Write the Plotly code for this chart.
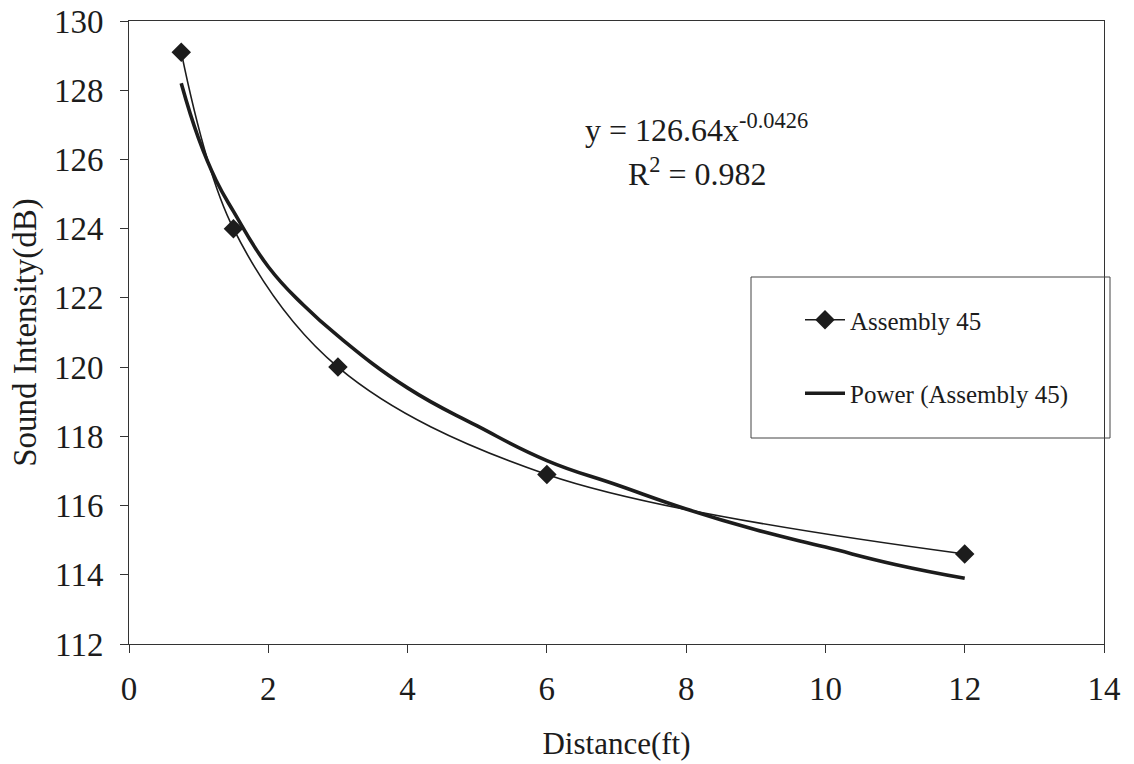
import plotly.graph_objects as go

# Measured data (Assembly 45)
distance_ft = [0.75, 1.5, 3, 6, 12]
sound_db = [129.1, 124.0, 120.0, 116.9, 114.6]

# Power trendline
trend_x = [0.75, 1, 1.25, 1.5, 2, 2.5, 3, 4, 5, 6, 7, 8, 9, 10, 11, 12]
trend_y = [128.2, 126.6, 125.4, 124.5, 122.9, 121.8, 120.9, 119.4, 118.3,
           117.3, 116.6, 115.9, 115.3, 114.8, 114.3, 113.9]

x_ticks = [0, 2, 4, 6, 8, 10, 12, 14]
y_ticks = [112, 114, 116, 118, 120, 122, 124, 126, 128, 130]

FONT = "serif"
INK = "#1c1c1c"

fig = go.Figure()
fig.add_trace(go.Scatter(
    x=distance_ft, y=sound_db, name="Assembly 45", mode="lines+markers",
    line=dict(color=INK, width=1.6, shape="spline", smoothing=1.0),
    marker=dict(symbol="diamond", size=15, color=INK),
    legendgroup="a",
))
fig.add_trace(go.Scatter(
    x=trend_x, y=trend_y, name="Power (Assembly 45)", mode="lines",
    line=dict(color=INK, width=3.6, shape="spline", smoothing=1.3),
    legendgroup="b",
))

fig.update_layout(
    width=1134, height=764,
    margin=dict(l=129, r=30, t=21, b=120, autoexpand=False),
    paper_bgcolor="white", plot_bgcolor="white",
    font=dict(family=FONT, size=30, color=INK),
    showlegend=True,
    legend=dict(
        x=(800 - 129) / 975, y=(644 - 297) / 623, xanchor="left", yanchor="top",
        bgcolor="rgba(0,0,0,0)", borderwidth=0,
        font=dict(family=FONT, size=25, color=INK),
        tracegroupgap=38, itemwidth=40,
    ),
    shapes=[dict(
        type="rect", xref="paper", yref="paper",
        x0=(751 - 129) / 975, x1=(1110 - 129) / 975,
        y0=(644 - 438) / 623, y1=(644 - 277) / 623,
        line=dict(color="#444444", width=1), fillcolor="rgba(0,0,0,0)",
    )],
    annotations=[
        dict(text="y = 126.64x<sup>-0.0426</sup>", xref="paper", yref="paper",
             x=(696 - 129) / 975, y=(644 - 128) / 623, showarrow=False,
             font=dict(family=FONT, size=32, color=INK), xanchor="center", yanchor="middle"),
        dict(text="R<sup>2</sup> = 0.982", xref="paper", yref="paper",
             x=(697 - 129) / 975, y=(644 - 172) / 623, showarrow=False,
             font=dict(family=FONT, size=32, color=INK), xanchor="center", yanchor="middle"),
    ],
)

fig.update_xaxes(
    range=[0, 14], tickvals=x_ticks, ticktext=[str(v) for v in x_ticks],
    showgrid=False, zeroline=False, automargin=False,
    showline=True, linecolor="#333333", linewidth=1, mirror=True,
    ticks="outside", ticklen=8, tickcolor="#333333",
    tickfont=dict(family=FONT, size=33, color=INK), ticklabelstandoff=7,
    title=dict(text="Distance(ft)", font=dict(family=FONT, size=31, color=INK), standoff=26),
)
fig.update_yaxes(
    range=[112, 130], tickvals=y_ticks, ticktext=[str(v) for v in y_ticks],
    showgrid=False, zeroline=False, automargin=False,
    showline=True, linecolor="#333333", linewidth=1, mirror=True,
    ticks="outside", ticklen=8, tickcolor="#333333",
    tickfont=dict(family=FONT, size=33, color=INK), ticklabelstandoff=10,
    title=dict(text="Sound Intensity(dB)", font=dict(family=FONT, size=33, color=INK), standoff=7),
)

fig.write_html("out.html", config={"displayModeBar": False},
               post_script="document.body.style.margin='0';")
